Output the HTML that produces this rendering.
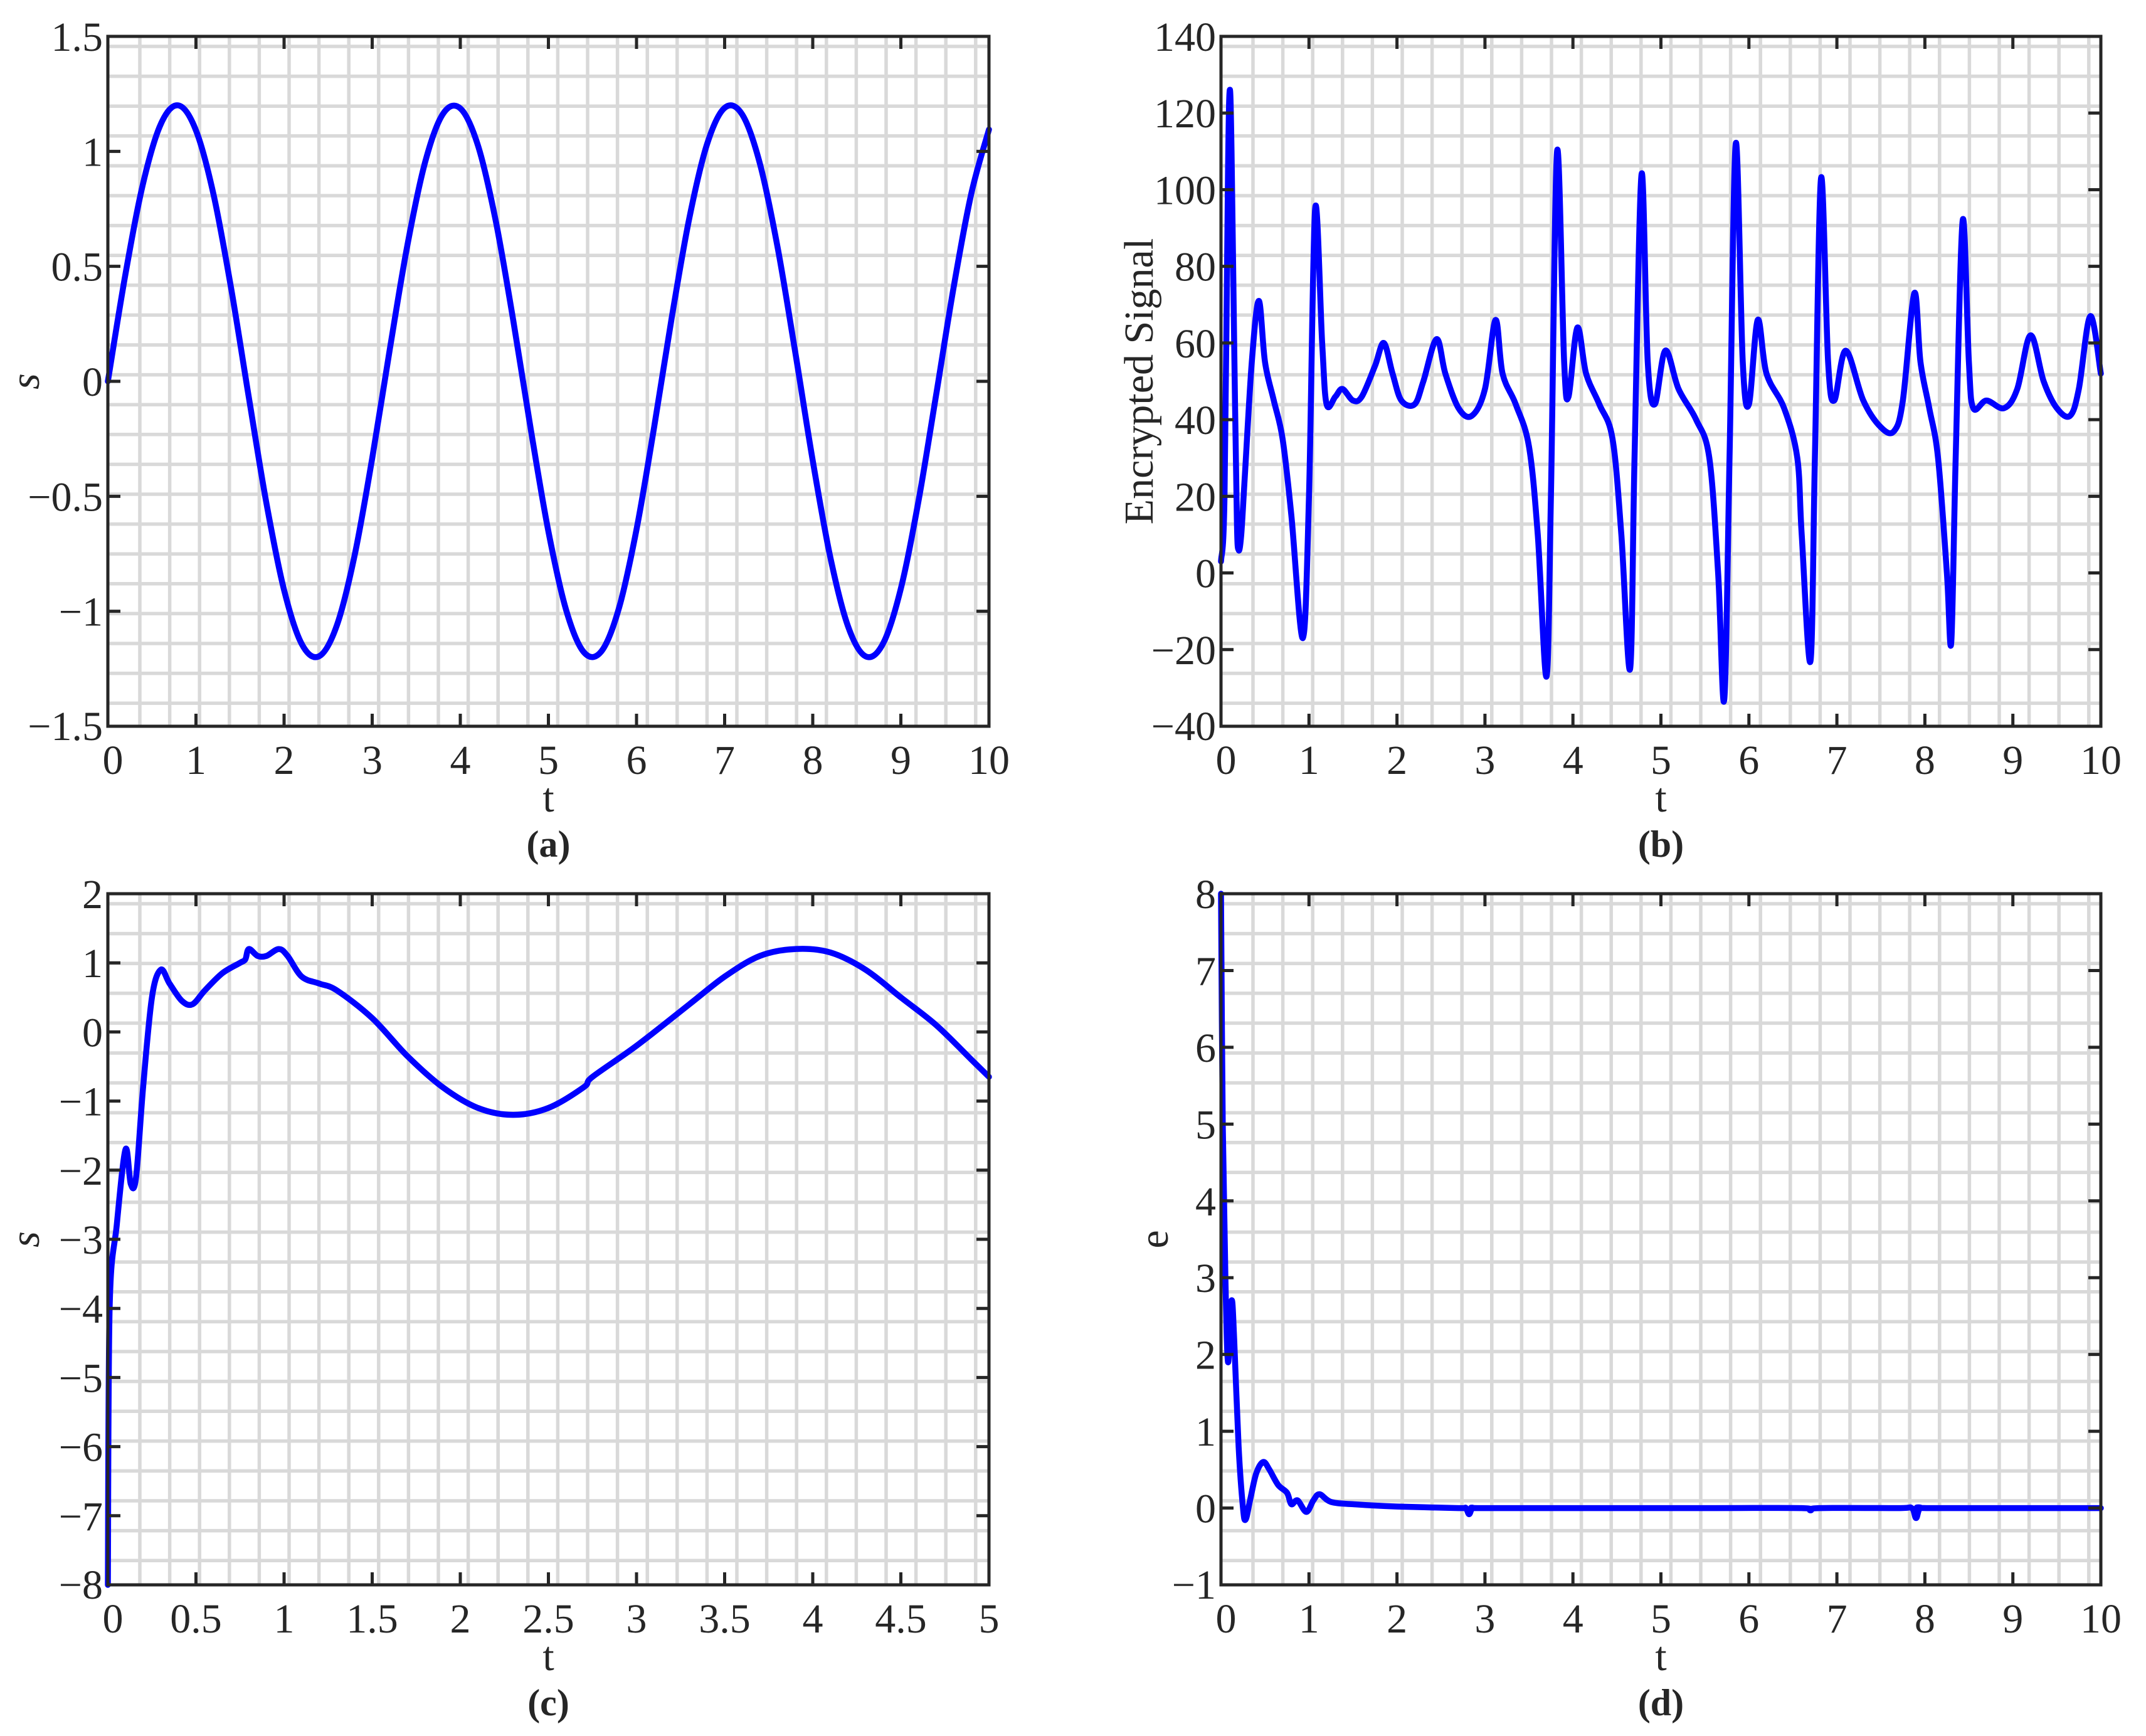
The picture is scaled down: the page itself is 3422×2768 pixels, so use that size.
<!DOCTYPE html>
<html><head><meta charset="utf-8">
<style>
html,body{margin:0;padding:0;background:#fff;}
svg{display:block;}
text{font-family:"Liberation Serif",serif;fill:#262626;}
</style></head>
<body>
<svg id="fig" width="3422" height="2768" viewBox="0 0 3422 2768" xmlns="http://www.w3.org/2000/svg">
<rect x="0" y="0" width="3422" height="2768" fill="#fff"/>
</svg>
<script>
// Panel (a) data
const aT = [0,0.2,0.4,0.6,0.8,1.0,1.2,1.4,1.6,1.8,2.0,2.2,2.4,2.6,2.8,3.0,3.2,3.4,3.6,3.8,4.0,4.2,4.4,4.6,4.8,5.0,5.2,5.4,5.6,5.8,6.0,6.2,6.4,6.6,6.8,7.0,7.2,7.4,7.6,7.8,8.0,8.2,8.4,8.6,8.8,9.0,9.2,9.4,9.6,9.8,10.0];
const aS = [0,0.467,0.861,1.118,1.200,1.091,0.811,0.402,-0.070,-0.531,-0.908,-1.142,-1.195,-1.060,-0.758,-0.335,0.140,0.593,0.952,1.161,1.187,1.026,0.702,0.267,-0.209,-0.653,-0.993,-1.177,-1.175,-0.987,-0.644,-0.199,0.278,0.711,1.031,1.189,1.160,0.947,0.585,0.130,-0.345,-0.766,-1.065,-1.196,-1.139,-0.901,-0.521,-0.060,0.411,0.817,1.095];
const aXTicks = [0,1,2,3,4,5,6,7,8,9,10];
const aYTicks = [-1.5,-1,-0.5,0,0.5,1,1.5];
const aYLabels = ["\u22121.5","\u22121","\u22120.5","0","0.5","1","1.5"];
// Panel (b) data
const bT = [0,0.04,0.08,0.1,0.12,0.15,0.18,0.2,0.23,0.27,0.35,0.43,0.5,0.6,0.7,0.8,0.93,1.0,1.07,1.15,1.2,1.3,1.38,1.5,1.6,1.75,1.85,1.95,2.05,2.2,2.3,2.45,2.55,2.7,2.85,3.0,3.12,3.2,3.35,3.5,3.6,3.7,3.75,3.82,3.9,3.95,4.05,4.15,4.3,4.45,4.55,4.65,4.7,4.78,4.85,4.93,5.05,5.2,5.4,5.55,5.65,5.72,5.78,5.85,5.93,6.0,6.1,6.2,6.4,6.55,6.6,6.7,6.75,6.82,6.9,6.97,7.1,7.3,7.5,7.65,7.75,7.88,7.95,8.05,8.15,8.25,8.3,8.35,8.43,8.5,8.55,8.7,8.9,9.05,9.2,9.35,9.5,9.65,9.75,9.88,10];
const bS = [3,20,105,126,110,60,14,6,10,25,55,71,55,45,35,15,-17,20,95,60,44,46,48,45,46,54,60,52,45,44,50,61,52,43,41,48,66,52,44,33,10,-27,20,110,55,46,64,52,44,35,10,-25,30,104,55,44,58,48,40,30,0,-33,30,112,55,44,66,52,43,30,10,-23,30,103,55,45,58,45,38,37,45,73,55,43,30,0,-18,30,92,55,43,45,43,48,62,50,43,41,48,67,52];
const bXTicks = [0,1,2,3,4,5,6,7,8,9,10];
const bYTicks = [-40,-20,0,20,40,60,80,100,120,140];
const bYLabels = ["\u221240","\u221220","0","20","40","60","80","100","120","140"];
// Panel (c) data
const cT = [0,0.01,0.05,0.1,0.13,0.16,0.2,0.25,0.3,0.35,0.42,0.48,0.55,0.65,0.75,0.78,0.8,0.85,0.9,0.97,1.02,1.1,1.2,1.3,1.5,1.7,1.9,2.1,2.3,2.5,2.7,2.75,3.0,3.3,3.5,3.7,3.9,4.1,4.3,4.5,4.7,4.9,5.0];
const cS = [-8,-4,-2.8,-1.7,-2.2,-2.1,-0.8,0.5,0.9,0.7,0.45,0.4,0.6,0.85,1.0,1.05,1.2,1.1,1.1,1.2,1.1,0.8,0.7,0.6,0.2,-0.35,-0.8,-1.1,-1.2,-1.1,-0.8,-0.65,-0.2,0.4,0.8,1.1,1.2,1.15,0.9,0.5,0.1,-0.4,-0.65];
const cXTicks = [0,0.5,1,1.5,2,2.5,3,3.5,4,4.5,5];
const cXLabels = ["0","0.5","1","1.5","2","2.5","3","3.5","4","4.5","5"];
const cYTicks = [-8,-7,-6,-5,-4,-3,-2,-1,0,1,2];
const cYLabels = ["\u22128","\u22127","\u22126","\u22125","\u22124","\u22123","\u22122","\u22121","0","1","2"];
// Panel (d) data
const dT = [0,0.02,0.05,0.08,0.12,0.15,0.2,0.25,0.28,0.33,0.4,0.48,0.55,0.65,0.75,0.8,0.87,0.97,1.05,1.12,1.25,1.5,2,2.7,2.78,2.82,2.86,2.95,4,5.6,6.6,6.7,6.8,7.7,7.85,7.9,7.95,8.1,10];
const dS = [8,5,3,1.9,2.7,2.2,0.8,0,-0.15,0.1,0.45,0.6,0.5,0.3,0.2,0.05,0.1,-0.05,0.1,0.18,0.08,0.05,0.02,0,0,-0.08,0,0,0,0,0,-0.03,0,0,0,-0.13,0,0,0];
const dXTicks = [0,1,2,3,4,5,6,7,8,9,10];
const dYTicks = [-1,0,1,2,3,4,5,6,7,8];
const dYLabels = ["\u22121","0","1","2","3","4","5","6","7","8"];

const NS = "http://www.w3.org/2000/svg";
const svg = document.getElementById('fig');
function mk(tag, attrs, parent){
  const e = document.createElementNS(NS, tag);
  for (const k in attrs) e.setAttribute(k, attrs[k]);
  (parent||svg).appendChild(e);
  return e;
}
function smoothPath(pts){
  let d = "M" + pts[0][0].toFixed(1) + "," + pts[0][1].toFixed(1);
  for (let i=0;i<pts.length-1;i++){
    const p0 = pts[Math.max(0,i-1)], p1 = pts[i], p2 = pts[i+1], p3 = pts[Math.min(pts.length-1,i+2)];
    const k = 1/6;
    const c1x = p1[0] + (p2[0]-p0[0])*k, c1y = p1[1] + (p2[1]-p0[1])*k;
    const c2x = p2[0] - (p3[0]-p1[0])*k, c2y = p2[1] - (p3[1]-p1[1])*k;
    d += " C" + c1x.toFixed(1)+","+c1y.toFixed(1)+" "+c2x.toFixed(1)+","+c2y.toFixed(1)+" "+p2[0].toFixed(1)+","+p2[1].toFixed(1);
  }
  return d;
}
function panel(cfg){
  const g = mk('g', {});
  
  
  const {L,R,T,B} = cfg;
  const xs = v => L + (v - cfg.xmin)/(cfg.xmax - cfg.xmin)*(R-L);
  const ys = v => B - (v - cfg.ymin)/(cfg.ymax - cfg.ymin)*(B-T);
  const grid = mk('g', {stroke:'#d9d9d9','stroke-width':5.5,fill:'none'}, g);
  
  
  for (let x=L+51; x<R-3; x+=47.6) mk('line',{x1:x,y1:T,x2:x,y2:B},grid);
  for (let y=T+16; y<B-3; y+=47.6) mk('line',{x1:L,y1:y,x2:R,y2:y},grid);
  const pts = cfg.t.map((tv,i)=>[xs(tv), ys(cfg.s[i])]);
  const line = mk('path',{d:smoothPath(pts),fill:'none',stroke:'#0000ff','stroke-width':9.5,'stroke-linejoin':'round','stroke-linecap':'round'},g);
  
  
  const frame = mk('rect',{x:L,y:T,width:R-L,height:B-T,fill:'none',stroke:'#262626','stroke-width':5},g);
  
  
  const tk = mk('g',{stroke:'#262626','stroke-width':5},g);
  cfg.xt.forEach((v,i)=>{
    const x=xs(v);
    mk('line',{x1:x,y1:B,x2:x,y2:B-20},tk);
    mk('line',{x1:x,y1:T,x2:x,y2:T+20},tk);
    const t = mk('text',{x:x+(i===0?8:0),y:B+76,'font-size':66,'text-anchor':'middle'},g);
    t.textContent = cfg.xl ? cfg.xl[i] : String(v);
    
    
  });
  cfg.yt.forEach((v,i)=>{
    const y=ys(v);
    mk('line',{x1:L,y1:y,x2:L+20,y2:y},tk);
    mk('line',{x1:R,y1:y,x2:R-20,y2:y},tk);
    const t = mk('text',{x:L-8,y:y+(i===0?22:23),'font-size':66,'text-anchor':'end'},g);
    t.textContent = cfg.yl[i];
    
    
  });
  const xlab = mk('text',{x:(L+R)/2,y:B+136,'font-size':66,'text-anchor':'middle'},g);
  xlab.textContent = 't';
  
  
  const ylab = mk('text',{x:cfg.ylx,y:(T+B)/2,'font-size':66,'text-anchor':'middle',transform:'rotate(-90 '+cfg.ylx+' '+((T+B)/2)+')','font-style':cfg.yitalic?'italic':'normal'},g);
  ylab.textContent = cfg.ytitle;
  
  
  const cap = mk('text',{x:(L+R)/2,y:B+208,'font-size':60,'font-weight':'bold','text-anchor':'middle'},g);
  cap.textContent = cfg.cap;
  
  
}
panel({name:'panel-a',L:172,R:1577,T:58,B:1158,xmin:0,xmax:10,ymin:-1.5,ymax:1.5,t:aT,s:aS,xt:aXTicks,yt:aYTicks,yl:aYLabels,ytitle:'s',yitalic:true,ylx:62,cap:'(a)'});
panel({name:'panel-b',L:1947,R:3350,T:58,B:1158,xmin:0,xmax:10,ymin:-40,ymax:140,t:bT,s:bS,xt:bXTicks,yt:bYTicks,yl:bYLabels,ytitle:'Encrypted Signal',yitalic:false,ylx:1838,cap:'(b)'});
panel({name:'panel-c',L:172,R:1577,T:1425,B:2527,xmin:0,xmax:5,ymin:-8,ymax:2,t:cT,s:cS,xt:cXTicks,xl:cXLabels,yt:cYTicks,yl:cYLabels,ytitle:'s',yitalic:true,ylx:62,cap:'(c)'});
panel({name:'panel-d',L:1947,R:3350,T:1425,B:2527,xmin:0,xmax:10,ymin:-1,ymax:8,t:dT,s:dS,xt:dXTicks,yt:dYTicks,yl:dYLabels,ytitle:'e',yitalic:false,ylx:1862,cap:'(d)'});
</script>
</body></html>
